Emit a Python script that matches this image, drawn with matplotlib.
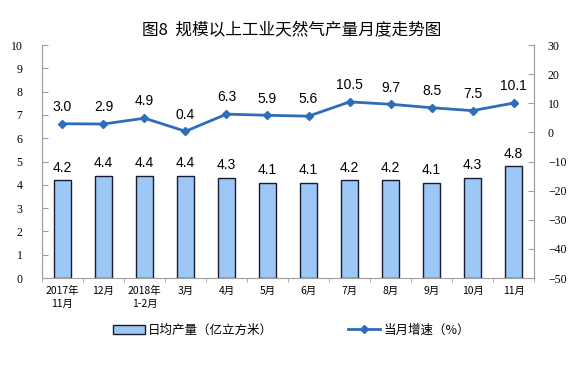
import matplotlib
matplotlib.use('Agg')
import matplotlib.pyplot as plt
import numpy as np

plt.rcParams['font.family'] = ['Noto Sans CJK SC', 'DejaVu Sans']

months = ['2017年\n11月', '12月', '2018年\n1-2月', '3月', '4月', '5月',
          '6月', '7月', '8月', '9月', '10月', '11月']
daily_output = [4.2, 4.4, 4.4, 4.4, 4.3, 4.1, 4.1, 4.2, 4.2, 4.1, 4.3, 4.8]
growth = [3.0, 2.9, 4.9, 0.4, 6.3, 5.9, 5.6, 10.5, 9.7, 8.5, 7.5, 10.1]

bar_color = '#9DC8F5'
line_color = '#2D6DB9'
spine_color = '#A0A0A0'

fig = plt.figure(figsize=(5.83, 3.67), dpi=100)
ax = fig.add_axes([0.072, 0.2425, 0.844, 0.6345])
ax2 = ax.twinx()

x = np.arange(len(months))
bars = ax.bar(x, daily_output, width=0.41, color=bar_color, edgecolor='#1A1A2E',
              linewidth=1.0, label='日均产量（亿立方米）', zorder=2)
for xi, v in zip(x, daily_output):
    ax.annotate(f'{v:.1f}', (xi, v), xytext=(0, 4), textcoords='offset points',
                ha='center', va='bottom', fontsize=10, family='Liberation Sans')

line, = ax2.plot(x, growth, color=line_color, lw=2, marker='D', ms=4,
                 label='当月增速（%）', zorder=3)
for xi, v in zip(x, growth):
    ax2.annotate(f'{v:.1f}', (xi, v), xytext=(0, 7), textcoords='offset points',
                 ha='center', va='bottom', fontsize=10, family='Liberation Sans')

ax.set_xlim(-0.5, len(months) - 0.5)
ax.set_ylim(0, 10)
ax.set_yticks(range(0, 11))
ax2.set_ylim(-50, 30)
ax2.set_yticks(range(-50, 31, 10))

ax.set_xticks(x)
ax.set_xticklabels(months, fontsize=7.5, linespacing=1.3)
ax.set_xticks(np.arange(-0.5, len(months), 1), minor=True)
ax.tick_params(axis='x', which='major', length=0, pad=6)
ax.tick_params(axis='x', which='minor', length=3, direction='out', color=spine_color)

for a in (ax, ax2):
    for s in a.spines.values():
        s.set_color(spine_color)
    a.spines['top'].set_visible(False)
ax2.spines['bottom'].set_visible(False)

ax.tick_params(axis='y', direction='in', length=4, color=spine_color, labelsize=8.5, pad=14)
ax2.tick_params(axis='y', direction='in', length=4, color=spine_color, labelsize=8.5, pad=10)
for lab in ax.get_yticklabels() + ax2.get_yticklabels():
    lab.set_family('Liberation Serif')

fig.suptitle('图8  规模以上工业天然气产量月度走势图', x=0.5, y=0.94, fontsize=12)

fig.legend([bars, line], ['日均产量（亿立方米）', '当月增速（%）'], loc='center',
           bbox_to_anchor=(0.5, 0.1), ncol=2, frameon=False, fontsize=9,
           columnspacing=6, handlelength=2.5, handletextpad=0.3)

fig.savefig('out.png', dpi=100)
